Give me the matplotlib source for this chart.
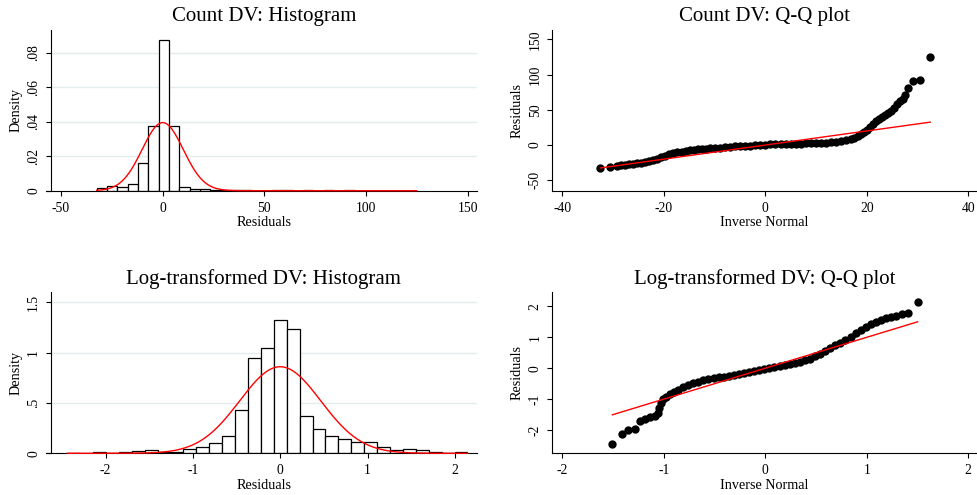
import numpy as np
import matplotlib
matplotlib.use("Agg")
import matplotlib.pyplot as plt

plt.rcParams['font.family'] = ['Liberation Serif', 'DejaVu Serif']
plt.rcParams['axes.unicode_minus'] = False

# ---------------- data ----------------
# Count DV histogram (31 bins)
count_hist_min = -32.46
count_hist_width = 5.077
count_hist_density = [0.0015, 0.0025, 0.0023, 0.0041, 0.0158, 0.0373, 0.0875, 0.0373,
                      0.0024, 0.0011, 0.0008, 0.0006, 0.0004, 0.0003, 0.0003, 0.0,
                      0.0, 0.0002, 0.0002, 0.0, 0.0002, 0.0, 0.0002, 0.0,
                      0.0002, 0.0, 0.0, 0.0, 0.0, 0.0, 0.0001]
count_mean = 0.0
count_sd = 10.1
count_hist_xticks = [-50, 0, 50, 100, 150]
count_hist_xlabels = ['-50', '0', '50', '100', '150']
count_hist_yticks = [0, 0.02, 0.04, 0.06, 0.08]
count_hist_ylabels = ['0', '.02', '.04', '.06', '.08']

# Log DV histogram (31 bins)
log_hist_min = -2.438
log_hist_width = 0.1478
log_hist_density = [0.007, 0.0, 0.008, 0.007, 0.01, 0.023, 0.03, 0.017, 0.017, 0.043,
                    0.06, 0.103, 0.174, 0.427, 0.95, 1.046, 1.32, 1.238, 0.37, 0.245,
                    0.167, 0.144, 0.115, 0.11, 0.067, 0.028, 0.04, 0.032, 0.01, 0.003,
                    0.01]
log_mean = 0.0
log_sd = 0.464
log_hist_xticks = [-2, -1, 0, 1, 2]
log_hist_xlabels = ['-2', '-1', '0', '1', '2']
log_hist_yticks = [0, 0.5, 1, 1.5]
log_hist_ylabels = ['0', '.5', '1', '1.5']

# Count DV Q-Q plot (inverse normal, residual)
count_qq_x = [-32.5, -30.6, -29.3, -28.5, -27.7, -26.9, -26.1, -25.3, -24.5, -23.7,
              -22.9, -22.1, -21.3, -20.5, -19.7, -18.9, -18.1, -17.3, -16.5, -15.7,
              -14.9, -14.1, -13.3, -12.5, -11.7, -10.9, -10.0, -9.0, -8.0, -7.0,
              -6.0, -5.0, -4.0, -3.0, -2.0, -1.0, 0.0, 1.0, 2.0, 3.0,
              4.0, 5.0, 6.0, 7.0, 8.0, 9.0, 10.0, 11.0, 12.0, 13.0,
              14.0, 15.0, 16.0, 16.8, 17.5, 18.2, 18.8, 19.4, 20.0, 20.6,
              21.2, 21.8, 22.4, 23.0, 23.6, 24.2, 24.8, 25.4, 26.0, 26.6,
              27.2, 27.6, 28.2, 29.2, 30.5, 32.5]
count_qq_y = [-33.0, -31.0, -29.8, -29.0, -28.2, -27.3, -26.5, -25.7, -24.9, -24.0,
              -23.0, -21.6, -19.6, -17.3, -15.0, -13.2, -11.7, -10.4, -9.3, -8.4,
              -7.6, -6.9, -6.2, -5.6, -5.0, -4.5, -4.0, -3.5, -3.0, -2.5,
              -2.0, -1.6, -1.2, -0.8, -0.4, 0.0, 0.4, 0.8, 1.1, 1.4,
              1.6, 1.8, 2.0, 2.2, 2.4, 2.6, 2.8, 3.1, 3.4, 3.8,
              4.4, 5.3, 6.8, 8.5, 10.5, 13.0, 15.5, 18.5, 22.0, 26.0,
              30.0, 33.5, 37.0, 39.5, 42.0, 45.0, 49.0, 53.0, 58.0, 62.0,
              66.0, 71.0, 81.0, 90.6, 92.0, 125.0]
count_qq_xticks = [-40, -20, 0, 20, 40]
count_qq_xlabels = ['-40', '-20', '0', '20', '40']
count_qq_yticks = [-50, 0, 50, 100, 150]
count_qq_ylabels = ['-50', '0', '50', '100', '150']

# Log DV Q-Q plot
log_qq_x = [-1.507, -1.41, -1.35, -1.28, -1.23, -1.185, -1.136, -1.09, -1.06, -1.045,
            -1.03, -1.01, -0.98, -0.94, -0.90, -0.86, -0.81, -0.76, -0.71, -0.66,
            -0.61, -0.56, -0.51, -0.46, -0.41, -0.36, -0.31, -0.26, -0.21, -0.16,
            -0.11, -0.06, -0.01, 0.04, 0.09, 0.14, 0.19, 0.24, 0.29, 0.34,
            0.39, 0.44, 0.49, 0.54, 0.59, 0.64, 0.69, 0.74, 0.79, 0.84,
            0.89, 0.94, 0.99, 1.04, 1.09, 1.14, 1.19, 1.24, 1.29, 1.344,
            1.406, 1.50]
log_qq_y = [-2.44, -2.14, -2.0, -1.95, -1.72, -1.64, -1.58, -1.54, -1.45, -1.30,
            -1.14, -1.0, -0.92, -0.84, -0.76, -0.69, -0.62, -0.55, -0.49, -0.43,
            -0.38, -0.34, -0.31, -0.29, -0.27, -0.24, -0.21, -0.18, -0.15, -0.12,
            -0.09, -0.06, -0.03, 0.0, 0.03, 0.07, 0.10, 0.13, 0.16, 0.20,
            0.25, 0.31, 0.38, 0.47, 0.56, 0.65, 0.74, 0.82, 0.92, 1.02,
            1.13, 1.24, 1.33, 1.42, 1.49, 1.55, 1.61, 1.66, 1.70, 1.76,
            1.79, 2.14]
log_qq_xticks = [-2, -1, 0, 1, 2]
log_qq_xlabels = ['-2', '-1', '0', '1', '2']
log_qq_yticks = [-2, -1, 0, 1, 2]
log_qq_ylabels = ['-2', '-1', '0', '1', '2']

titles = ['Count DV: Histogram', 'Count DV: Q-Q plot',
          'Log-transformed DV: Histogram', 'Log-transformed DV: Q-Q plot']

# ---------------- figure ----------------
W, H = 977, 495
fig = plt.figure(figsize=(W / 100, H / 100), dpi=100)
fig.patch.set_facecolor('white')

GRID = '#e3ecef'
TICK_FS = 9.8
LAB_FS = 10.2
TITLE_FS = 15


def px_axes(l, t, r, b):
    return fig.add_axes([l / W, 1 - b / H, (r - l) / W, (b - t) / H])


def style(ax, l, t, r, b, spine_px, xticks, xlabels, yticks, ylabels,
          xlabel, ylabel, xlab_center_px, xlab_base_px, ylab_center_px):
    for s in ['top', 'right']:
        ax.spines[s].set_visible(False)
    for s in ['left', 'bottom']:
        ax.spines[s].set_linewidth(0.8)
        ax.spines[s].set_color('black')
    frac = (spine_px - l) / (r - l)
    ax.spines['left'].set_position(('axes', frac))
    ax.set_xticks(xticks)
    ax.set_xticklabels(xlabels)
    ax.set_yticks(yticks)
    ax.set_yticklabels(ylabels)
    ax.tick_params(axis='x', direction='out', length=3.4, width=0.8, labelsize=TICK_FS, pad=4.6)
    ax.tick_params(axis='y', direction='out', length=3.6, width=0.8, labelsize=TICK_FS, pad=4.0,
                   labelrotation=90)
    for lab in ax.get_yticklabels():
        lab.set_va('center')
    ax.set_xlabel(xlabel, fontsize=LAB_FS)
    ax.xaxis.set_label_coords((xlab_center_px - l) / (r - l), (b - xlab_base_px) / (b - t))
    ax.xaxis.label.set_va('baseline')
    ax.set_ylabel(ylabel, fontsize=LAB_FS)
    ax.yaxis.set_label_coords((ylab_center_px - l) / (r - l), 0.5)
    ax.yaxis.label.set_va('center')
    ax.set_facecolor('white')
    return frac


def hist_panel(l, t, r, b, spine_px, hmin, hw, dens, mu, sd, xlim, ylim,
               xt, xl, yt, yl, title, tbase):
    ax = px_axes(l, t, r, b)
    ax.set_xlim(*xlim)
    ax.set_ylim(*ylim)
    frac = style(ax, l, t, r, b, spine_px, xt, xl, yt, yl, 'Residuals', 'Density',
                 (spine_px + r) / 2, b + 35.8, 16)
    for yv in yt[1:]:
        ax.axhline(yv, xmin=frac, xmax=1, color=GRID, lw=1.0, zorder=0)
    dens = np.asarray(dens)
    edges = hmin + hw * np.arange(len(dens) + 1)
    mask = dens > 0
    ax.bar(edges[:-1][mask], dens[mask], width=hw, align='edge', facecolor='white',
           edgecolor='black', linewidth=0.9, zorder=2)
    xs = np.linspace(edges[0], edges[-1], 600)
    ys = np.exp(-0.5 * ((xs - mu) / sd) ** 2) / (sd * np.sqrt(2 * np.pi))
    ax.plot(xs, ys, color='red', lw=1.0, zorder=3, clip_on=False)
    fig.text((spine_px + r) / 2 / W, 1 - tbase / H, title, ha='center', va='baseline',
             fontsize=TITLE_FS)
    return ax


def qq_panel(l, t, r, b, qx, qy, xlim, ylim, xt, xl, yt, yl, title, tbase):
    ax = px_axes(l, t, r, b)
    ax.set_xlim(*xlim)
    ax.set_ylim(*ylim)
    style(ax, l, t, r, b, l, xt, xl, yt, yl, 'Inverse Normal', 'Residuals',
          (l + r) / 2, b + 35.8, 517.5)
    ax.scatter(qx, qy, s=36, c='black', linewidths=0, zorder=2)
    lo, hi = min(qx), max(qx)
    ax.plot([lo, hi], [lo, hi], color='red', lw=1.0, zorder=3)
    fig.text((l + r) / 2 / W, 1 - tbase / H, title, ha='center', va='baseline',
             fontsize=TITLE_FS)
    return ax


# top-left
hist_panel(46, 30, 477, 190.7, 50.7, count_hist_min, count_hist_width, count_hist_density,
           count_mean, count_sd, (-57.4, 154.6), (0, 0.0932),
           count_hist_xticks, count_hist_xlabels, count_hist_yticks, count_hist_ylabels,
           titles[0], 20.7)
# bottom-left
hist_panel(46, 292.3, 476.7, 453.3, 50.7, log_hist_min, log_hist_width, log_hist_density,
           log_mean, log_sd, (-2.682, 2.250), (0, 1.599),
           log_hist_xticks, log_hist_xlabels, log_hist_yticks, log_hist_ylabels,
           titles[2], 284.3)
# top-right
qq_panel(552.3, 30, 976.7, 190.7, count_qq_x, count_qq_y, (-41.97, 41.66), (-64.75, 163.2),
         count_qq_xticks, count_qq_xlabels, count_qq_yticks, count_qq_ylabels,
         titles[1], 20.7)
# bottom-right
qq_panel(552.3, 292.3, 976.7, 453.3, log_qq_x, log_qq_y, (-2.099, 2.083), (-2.752, 2.455),
         log_qq_xticks, log_qq_xlabels, log_qq_yticks, log_qq_ylabels,
         titles[3], 284.3)

fig.savefig('out.png', dpi=100, facecolor='white')
